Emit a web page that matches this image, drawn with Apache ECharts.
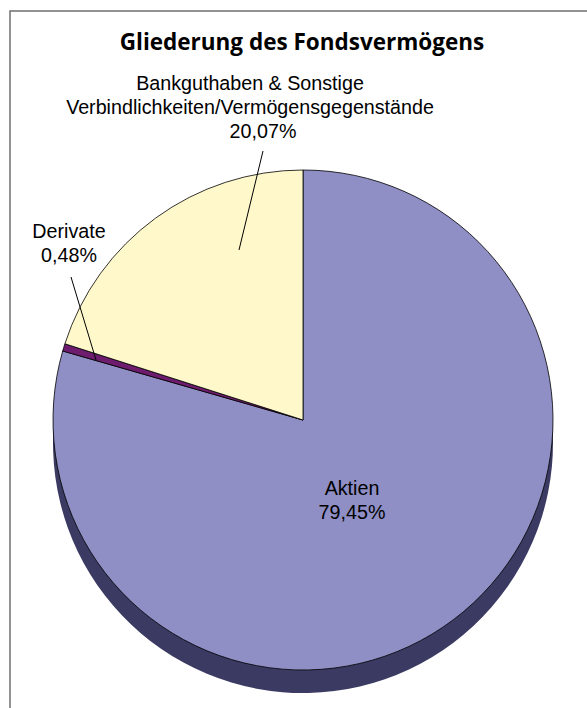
<!DOCTYPE html>
<html>
<head>
<meta charset="utf-8">
<script src="https://cdn.jsdelivr.net/npm/echarts@6/dist/echarts.min.js"></script>
<style>
  html, body { margin: 0; padding: 0; background: #fff; }
  #main { width: 587px; height: 708px; }
</style>
</head>
<body>
<div id="main"></div>
<script>
const chartTitle = 'Gliederung des Fondsvermögens';
const categories = ['Aktien', 'Derivate', 'Bankguthaben & Sonstige\nVerbindlichkeiten/Vermögensgegenstände'];
const shares = [79.45, 0.48, 20.07];
const topColors = ['#8f8fc5', '#6e1c6e', '#fff8cb'];
const sideColors = ['#3b3a63', '#3a1038', '#8a8566'];

// label spots and leader lines as placed in the original
const labelSpots = [
  { x: 352, y: 500, shift: 0, line: null },
  { x: 69, y: 243, shift: 0, line: [[71, 277], [96, 360]] },
  { x: 250, y: 107, shift: 26, line: [[263, 151], [239, 250]] }
];

const fmt = v => v.toFixed(2).replace('.', ',') + '%';

const cx = 303, cy = 420, r = 250, depth = 23;

// leader lines sit above the slices, as in the original
const leaders = labelSpots.filter(s => s.line).map(s => ({
  type: 'polyline', z: 100,
  shape: { points: s.line },
  style: { stroke: '#000', lineWidth: 1, fill: 'none' }
}));

const chart = echarts.init(document.getElementById('main'), null, { renderer: 'svg' });
chart.setOption({
  animation: false,
  graphic: [
    {
      type: 'rect', z: -10,
      shape: { x: 10, y: 11, width: 620, height: 740 },
      style: { fill: 'none', stroke: '#6f6f6f', lineWidth: 1.5 }
    },
    {
      type: 'text', z: 10,
      x: 302, y: 41,
      style: {
        text: chartTitle,
        textAlign: 'center', textVerticalAlign: 'middle',
        font: 'bold 22.5px "Open Sans"', fill: '#000'
      }
    }
  ].concat(leaders),
  series: [
    {
      // extruded side of the 3D pie
      type: 'pie', name: 'side', silent: true, z: 1,
      radius: r, center: [cx, cy + depth],
      startAngle: 90, clockwise: true,
      label: { show: false }, labelLine: { show: false },
      itemStyle: { borderWidth: 0 },
      data: categories.map((c, i) => ({ name: c, value: shares[i], itemStyle: { color: sideColors[i] } }))
    },
    {
      type: 'pie', name: 'Fondsvermögen', z: 2,
      radius: r, center: [cx, cy],
      startAngle: 90, clockwise: true,
      avoidLabelOverlap: false,
      emphasis: { disabled: true },
      itemStyle: { borderColor: '#000', borderWidth: 0.8 },
      label: {
        show: true, position: 'outside',
        color: '#000', fontFamily: 'Liberation Sans', fontSize: 19.7, lineHeight: 24,
        align: 'center',
        formatter: p => p.name + '\n{p|' + fmt(p.value) + '}',
        rich: { p: { fontFamily: 'Liberation Sans', fontSize: 19.7, lineHeight: 24, color: '#000' } }
      },
      labelLine: { show: false },
      labelLayout: p => {
        const s = labelSpots[p.dataIndex];
        return { x: s.x, y: s.y, align: 'center', verticalAlign: 'middle' };
      },
      data: categories.map((c, i) => ({
        name: c, value: shares[i],
        itemStyle: { color: topColors[i] },
        label: i === 0 ? { position: 'inside' }
          : { rich: { p: { fontFamily: 'Liberation Sans', fontSize: 19.7, lineHeight: 24, color: '#000', padding: [0, 0, 0, labelSpots[i].shift] } } }
      }))
    }
  ]
});
</script>
</body>
</html>
